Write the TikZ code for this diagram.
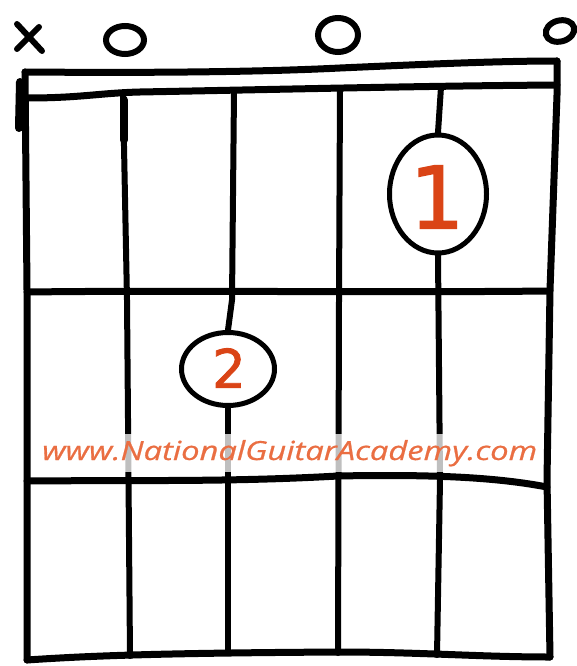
\documentclass[tikz,border=0pt]{standalone}
\usepackage{fontspec}
\newfontfamily\urlfont{Open Sans}[ItalicFont={Open Sans Italic}, ItalicFeatures={FakeBold=0.6}]
\newfontfamily\numfont{DejaVu Sans}[FakeBold=1.6]
\usetikzlibrary{shapes.geometric}
\definecolor{urlorange}{RGB}{234,110,66}
\definecolor{numred}{RGB}{218,68,22}
\tikzset{
  gridline/.style={line width=7pt, line cap=round, line join=round},
  stringline/.style={line width=6pt, line cap=round},
  fingerdot/.style={ellipse, draw, line width=5pt, fill=white, inner sep=0pt},
  openmark/.style={draw, ellipse, line width=6pt, inner sep=0pt},
  fingernum/.style={text=numred, inner sep=0pt},
}
\begin{document}
\begin{tikzpicture}[x=1pt,y=-1pt]
\useasboundingbox[fill=white] (0,0) rectangle (576,666);
% grid coordinates
\coordinate (tl) at (25,72);
\coordinate (tr) at (557,61);
\coordinate (bl) at (27,660);
\coordinate (br) at (550,657);
\coordinate (n2) at (123,95);
\coordinate (n3) at (234,91);
\coordinate (n4) at (340,89);
\coordinate (n5) at (441,87);
\coordinate (b2) at (130,656);
\coordinate (b3) at (228,653);
\coordinate (b4) at (338,653);
\coordinate (b5) at (437,655);
% frame and nut
\draw[gridline] (tl) .. controls (150,73) and (260,72) .. (340,68) .. controls (430,64) and (500,61) .. (tr);
\draw[gridline] (28,98) .. controls (80,98) and (100,93) .. (140,92) .. controls (300,89) and (420,86) .. (557,85);
\draw[gridline] (tr) -- (557,95) -- (550,290) -- (547,480) -- (br);
\draw[gridline] (tl) -- (27,290) -- (bl);
\draw[line width=8pt, line cap=round] (20,82) -- (19,128);
\draw[gridline] (27,292) .. controls (200,290) and (350,293) .. (550,291);
\draw[gridline] (27,481) .. controls (150,480) and (230,482) .. (338,476) .. controls (440,474) and (500,478) .. (547,487);
\draw[gridline] (bl) .. controls (100,655) and (180,653) .. (338,652) .. controls (420,652) and (480,657) .. (br);
% finger dots
\node[fingerdot, minimum width=97pt, minimum height=118pt] (c1) at (438,194) {};
\node[fingerdot, minimum width=93pt, minimum height=73pt] (c2) at (228,369) {};
% strings
\draw[stringline] (n2) -- (127,300) -- (b2);
\draw[stringline] (n3) -- (232,300) -- (c2.north);
\draw[stringline] (c2.south) -- (b3);
\draw[stringline] (n4) -- (339,300) -- (b4);
\draw[stringline] (n5) -- (c1.north);
\draw[stringline] (c1.south) -- (440,480) -- (b5);
\draw[line width=8pt, line cap=round] (124,100) -- (124,140);
% finger numbers
\node[fingernum] (f1) at (437,197) {\numfont\fontsize{86}{86}\selectfont 1};
\node[fingernum] (f2) at (229,368) {\numfont\fontsize{53}{53}\selectfont 2};
% open / muted markers
\draw[line width=6pt, line cap=round] (17,24) -- (42,51);
\draw[line width=6pt, line cap=round] (39,27) -- (17,49);
\node[openmark, minimum width=38pt, minimum height=28pt] (o5) at (125,40) {};
\node[openmark, minimum width=40pt, minimum height=34pt] (o3) at (338,35) {};
\node[openmark, minimum width=29pt, minimum height=21pt, rotate=15] (o1) at (560,31) {};
% watermark
\node[anchor=base west, fill=white, fill opacity=0.75, text opacity=1, inner xsep=2pt, inner ysep=6pt, text=urlorange] (url) at (40,460)
  {\resizebox{495pt}{20pt}{\urlfont\itshape www.NationalGuitarAcademy.com}};
\end{tikzpicture}
\end{document}
